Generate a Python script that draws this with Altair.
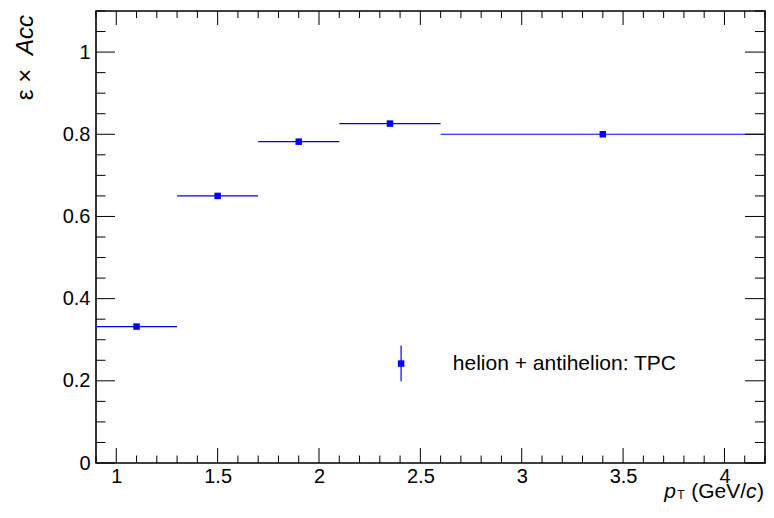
import altair as alt
import pandas as pd

# data
pt_center = [1.1, 1.5, 1.9, 2.35, 3.4]
pt_low = [0.9, 1.3, 1.7, 2.1, 2.6]
pt_high = [1.3, 1.7, 2.1, 2.6, 4.2]
eff = [0.332, 0.650, 0.782, 0.826, 0.800]

x_major = [1.0, 1.5, 2.0, 2.5, 3.0, 3.5, 4.0]
x_minor = [round(0.9 + 0.1 * i, 2) for i in range(34) if round(0.9 + 0.1 * i, 2) not in x_major]
y_major = [0.0, 0.2, 0.4, 0.6, 0.8, 1.0]
y_minor = [round(0.05 * i, 2) for i in range(23) if round(0.05 * i, 2) not in y_major]

legend_label = "helion + antihelion: TPC"

W, H = 669, 452
FONT = "Liberation Sans"
BLUE = "#0000ff"

df = pd.DataFrame({"pt": pt_center, "lo": pt_low, "hi": pt_high, "eff": eff})

xs = alt.Scale(domain=[0.9, 4.2], nice=False, zero=False)
ys = alt.Scale(domain=[0, 1.1], nice=False, zero=False)

xaxis = alt.Axis(values=x_major, format="~g", ticks=False, tickSize=0, domain=False, grid=False,
                 labelFont=FONT, labelFontSize=20, labelColor="black", labelPadding=3, title=None)
yaxis = alt.Axis(values=y_major, format="~g", ticks=False, tickSize=0, domain=False, grid=False,
                 labelFont=FONT, labelFontSize=20, labelColor="black", labelPadding=6, title=None)

base = alt.Chart(df)

bars = base.mark_rule(color=BLUE, strokeWidth=1.2).encode(
    x=alt.X("lo:Q", scale=xs, axis=xaxis),
    x2="hi:Q",
    y=alt.Y("eff:Q", scale=ys, axis=yaxis),
)
pts = base.mark_square(color=BLUE, size=42, opacity=1).encode(
    x=alt.X("pt:Q", scale=xs),
    y=alt.Y("eff:Q", scale=ys),
)

# tick marks (inside, on all four sides)
def xticks(vals, length, top):
    d = pd.DataFrame({"v": vals})
    if top:
        return alt.Chart(d).mark_rule(color="black", strokeWidth=1).encode(
            x=alt.X("v:Q", scale=xs), y=alt.value(0), y2=alt.value(length))
    return alt.Chart(d).mark_rule(color="black", strokeWidth=1).encode(
        x=alt.X("v:Q", scale=xs), y=alt.value(H), y2=alt.value(H - length))

def yticks(vals, length, right):
    d = pd.DataFrame({"v": vals})
    if right:
        return alt.Chart(d).mark_rule(color="black", strokeWidth=1).encode(
            y=alt.Y("v:Q", scale=ys), x=alt.value(W), x2=alt.value(W - length))
    return alt.Chart(d).mark_rule(color="black", strokeWidth=1).encode(
        y=alt.Y("v:Q", scale=ys), x=alt.value(0), x2=alt.value(length))

ticks = [
    xticks(x_major, 15, False), xticks(x_minor, 7.5, False),
    xticks(x_major, 14, True), xticks(x_minor, 7, True),
    yticks(y_major, 19, False), yticks(y_minor, 9.5, False),
    yticks(y_major, 20, True), yticks(y_minor, 10, True),
]

# legend (placed in data coordinates of the frame)
leg_x, leg_y, leg_lo, leg_hi, leg_tx = 2.405, 0.242, 0.199, 0.286, 2.66
leg_df = pd.DataFrame({"label": [legend_label], "x": [leg_x], "y": [leg_y],
                       "lo": [leg_lo], "hi": [leg_hi], "tx": [leg_tx]})
leg_bar = alt.Chart(leg_df).mark_rule(color=BLUE, strokeWidth=1.2).encode(
    x=alt.X("x:Q", scale=xs), y=alt.Y("lo:Q", scale=ys), y2="hi:Q")
leg_pt = alt.Chart(leg_df).mark_square(color=BLUE, size=42, opacity=1).encode(
    x=alt.X("x:Q", scale=xs), y=alt.Y("y:Q", scale=ys))
leg_txt = alt.Chart(leg_df).mark_text(font=FONT, fontSize=21, align="left", baseline="middle",
                                      color="black").encode(
    x=alt.X("tx:Q", scale=xs), y=alt.Y("y:Q", scale=ys), text="label:N")

# axis titles
def txt(s, x, y, size, style="normal", align="center", baseline="alphabetic", angle=0):
    d = pd.DataFrame({"t": [s]})
    return alt.Chart(d).mark_text(font=FONT, fontSize=size, fontStyle=style, align=align,
                                  baseline=baseline, angle=angle, color="black").encode(
        x=alt.value(x), y=alt.value(y), text="t:N")

ytitle = [
    txt("Acc", -70, 24, 24, "italic", "center", "middle", 270),
    txt("ε ×", -70, 73.5, 24, "normal", "center", "middle", 270),
]
xtitle = [
    txt(")", 668, 487, 21, "normal", "right"),
    txt("c", 660.6, 487, 21, "italic", "right"),
    txt("(GeV/", 650, 487, 21, "normal", "right"),
    txt("p", 580, 487, 21, "italic", "right"),
    txt("T", 585, 488, 12, "normal", "center"),
]

chart = alt.layer(bars, pts, *ticks, leg_bar, leg_pt, leg_txt, *ytitle, *xtitle).properties(
    width=W, height=H,
    autosize=alt.AutoSizeParams(type="none"),
    padding={"left": 88, "top": 3, "right": 1, "bottom": 39},
).configure(background="white").configure_view(stroke="black", strokeWidth=1.6)

chart.save("out.html", embed_options={"renderer": "svg", "actions": False})
